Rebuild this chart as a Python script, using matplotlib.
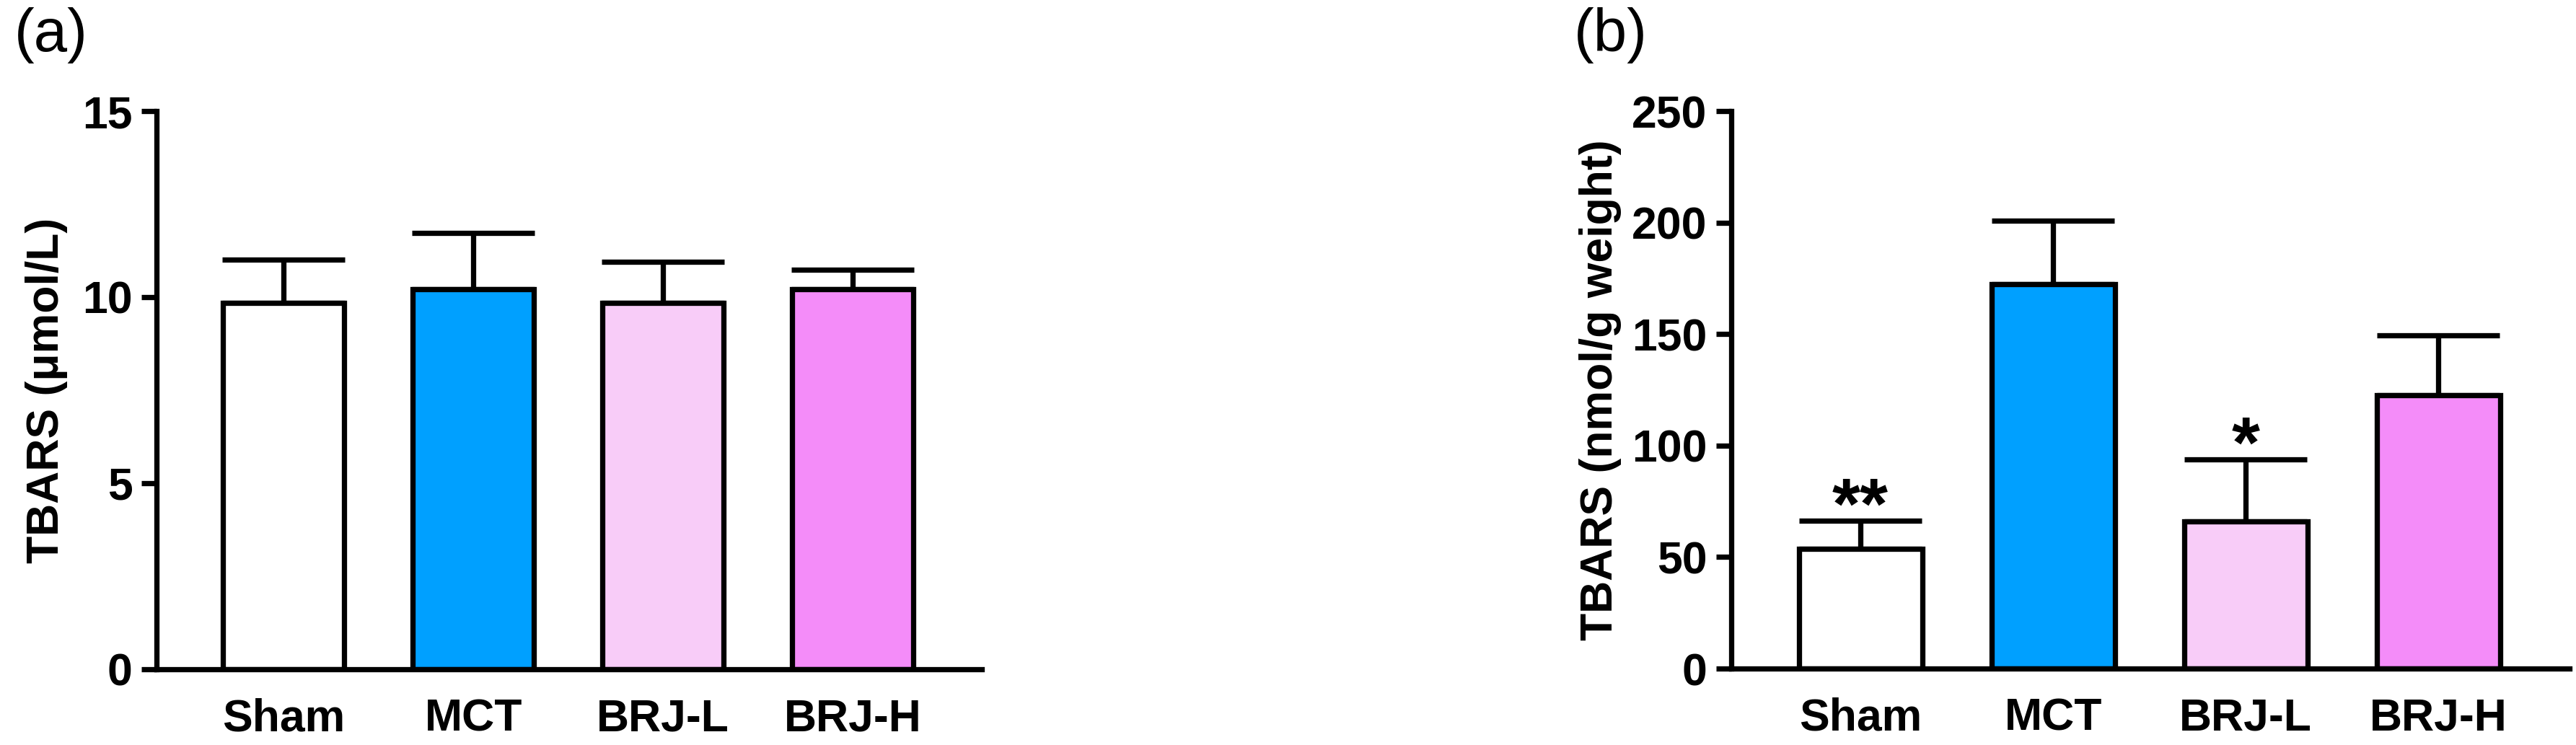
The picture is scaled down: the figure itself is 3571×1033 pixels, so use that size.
import matplotlib
matplotlib.use("Agg")
import matplotlib.pyplot as plt

plt.rcParams['font.family'] = ['Liberation Sans', 'DejaVu Sans']

grupper = ["Sham", "MCT", "BRJ-L", "BRJ-H"]
farger = ["#FFFFFF", "#00A0FF", "#F8CCF8", "#F48CF9"]

# (a) plasma TBARS
serum_snitt = [9.85, 10.22, 9.85, 10.22]
serum_feil = [1.15, 1.50, 1.10, 0.52]

# (b) vev TBARS
vev_snitt = [53.7, 172.4, 66.0, 122.6]
vev_feil = [12.6, 28.3, 27.8, 26.8]
vev_stjerner = ["**", "", "*", ""]

LW = 1.75


def tegn_panel(ax, snitt, feil, ymax, ysteg, ylabel, labelx, stjerner=None):
    x = list(range(len(grupper)))
    ax.errorbar(x, snitt, yerr=[[0] * len(feil), feil], fmt="none",
                ecolor="black", elinewidth=LW, capsize=20.5, capthick=LW, zorder=1)
    ax.bar(x, snitt, width=0.64, color=farger, edgecolor="black", linewidth=LW, zorder=2)

    if stjerner:
        for i in x:
            if stjerner[i]:
                ax.annotate(stjerner[i], (i, snitt[i] + feil[i]), xytext=(0, -2.5),
                            textcoords="offset points", ha="center", va="baseline",
                            fontsize=24, fontweight="bold")

    ax.set_xlim(-0.67, 3.68)
    ax.set_ylim(0, ymax)
    ax.set_yticks(range(0, ymax + 1, ysteg))
    ax.set_xticks(x)
    ax.set_xticklabels(grupper, fontsize=15, fontweight="bold")
    for lab in ax.get_yticklabels():
        lab.set_fontsize(15)
        lab.set_fontweight("bold")

    ax.spines["top"].set_visible(False)
    ax.spines["right"].set_visible(False)
    ax.spines["left"].set_linewidth(LW)
    ax.spines["bottom"].set_linewidth(LW)
    ax.tick_params(axis="y", length=5, width=LW, pad=3)
    ax.tick_params(axis="x", length=0, pad=9.5)

    ax.set_ylabel(ylabel, fontsize=15, fontweight="bold")
    ax.yaxis.set_label_coords(labelx, 0.5)


fig = plt.figure(figsize=(3571 / 300, 1033 / 300), dpi=300)
ax1 = fig.add_axes([0.0608, 0.1017, 0.3203, 0.7492])
ax2 = fig.add_axes([0.6721, 0.1026, 0.3254, 0.7483])

tegn_panel(ax1, serum_snitt, serum_feil, 15, 5, "TBARS (μmol/L)", -0.108)
tegn_panel(ax2, vev_snitt, vev_feil, 250, 50, "TBARS (nmol/g weight)", -0.131, vev_stjerner)

fig.text(20 / 3571, 1 - 10 / 1033, "(a)", fontsize=20, ha="left", va="top")
fig.text(2182 / 3571, 1 - 10 / 1033, "(b)", fontsize=20, ha="left", va="top")

fig.savefig("out.png", dpi=300)
